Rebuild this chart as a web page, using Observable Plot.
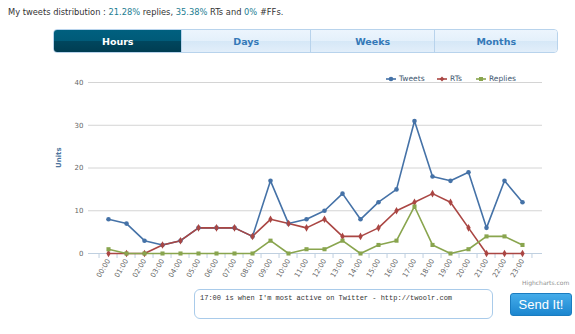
<!DOCTYPE html>
<html><head><meta charset="utf-8">
<script src="https://cdn.jsdelivr.net/npm/d3@7"></script>
<script src="https://cdn.jsdelivr.net/npm/@observablehq/plot@0.6"></script>
<style>
body{margin:0;background:#fff;width:575px;height:334px;position:relative;overflow:hidden;font-family:"DejaVu Sans",Verdana,sans-serif;}
#title{position:absolute;left:8px;top:7px;font-size:8.3px;color:#333;white-space:nowrap}
#title span{color:#1d7d92}
#tabs{position:absolute;left:53px;top:29px;width:505px;height:24px;display:flex;border:1px solid #b8d3ec;border-radius:4px;overflow:hidden;box-sizing:border-box}
.tab{height:100%;display:flex;align-items:center;justify-content:center;font-weight:bold;font-size:9.5px;color:#3479b8;background:linear-gradient(#ecf5fd 0%,#e4f0fb 50%,#d6e8f7 52%,#e2eefa 100%);border-left:1px solid #b8d3ec;box-sizing:border-box}
.tab:first-child{border-left:none}
.tab.active{color:#fff;background:linear-gradient(#00607f 0%,#005a78 50%,#00465e 52%,#003d52 100%)}
#chart{position:absolute;left:0;top:60px}
#legend{position:absolute;top:74px;left:0;font-size:7.5px;color:#3e576f}
.lg{position:absolute;display:flex;align-items:center;white-space:nowrap}
.lg svg{margin-right:3px}
#credit{position:absolute;left:522px;top:279px;font-size:6px;color:#909090}
#msg{position:absolute;left:194px;top:289px;width:299px;height:30px;border:1px solid #a9cbea;border-radius:6px;box-sizing:border-box;font-family:"Liberation Mono",monospace;font-size:7px;color:#333;padding:4px 5px}
#send{position:absolute;left:510px;top:293px;width:62px;height:23px;border-radius:3px;background:linear-gradient(#44acea,#1c86cf);border:1px solid #1a7cc0;box-sizing:border-box;color:#fff;font-family:"Liberation Sans",Arial,sans-serif;font-size:13px;display:flex;align-items:center;justify-content:center}
</style></head>
<body>
<div id="title">My tweets distribution : <span>21.28%</span> replies, <span>35.38%</span> RTs and <span>0%</span> #FFs.</div>
<div id="tabs"></div>
<div id="chart"></div>
<div id="legend"></div>
<div id="credit">Highcharts.com</div>
<div id="msg">17:00 is when I'm most active on Twitter - http://twoolr.com</div>
<div id="send">Send It!</div>
<script>
const tabNames = ["Hours","Days","Weeks","Months"];
const tabWidths = [128,129,125,123];
const hours = ["00:00","01:00","02:00","03:00","04:00","05:00","06:00","07:00","08:00","09:00","10:00","11:00","12:00","13:00","14:00","15:00","16:00","17:00","18:00","19:00","20:00","21:00","22:00","23:00"];
const tweets  = [8,7,3,2,3,6,6,6,4,17,7,8,10,14,8,12,15,31,18,17,19,6,17,12];
const rts     = [0,0,0,2,3,6,6,6,4,8,7,6,8,4,4,6,10,12,14,12,6,0,0,0];
const replies = [1,0,0,0,0,0,0,0,0,3,0,1,1,3,0,2,3,11,2,0,1,4,4,2];
const seriesNames = ["Tweets","RTs","Replies"];
const seriesColors = ["#4572A7","#AA4643","#89A54E"];
const seriesSymbols = ["circle","diamond","square"];
const yTicks = [0,10,20,30,40];

// tabs
const tabs = document.getElementById("tabs");
tabNames.forEach((t,i)=>{
  const d=document.createElement("div");
  d.className="tab"+(i===0?" active":"");
  d.style.width=tabWidths[i]+"px";
  d.textContent=t; tabs.appendChild(d);
});

// legend
const legendX=[386,437,476];
const lg=document.getElementById("legend");
seriesNames.forEach((s,i)=>{
  const d=document.createElement("div");
  d.className="lg"; d.style.left=legendX[i]+"px";
  const c=seriesColors[i];
  let m = seriesSymbols[i]==="circle" ? `<circle cx="5" cy="4" r="2.3" fill="${c}"/>`
        : seriesSymbols[i]==="diamond" ? `<path d="M5 1.6L7.4 4L5 6.4L2.6 4Z" fill="${c}"/>`
        : `<rect x="3" y="2" width="4" height="4" fill="${c}"/>`;
  d.innerHTML=`<svg width="10" height="8"><line x1="0" y1="4" x2="10" y2="4" stroke="${c}" stroke-width="1.6"/>${m}</svg>${s}`;
  lg.appendChild(d);
});

const W=575,H=220,mL=88,mR=33,mT=22,mB=27;
const step=(W-mL-mR)/hours.length;
const series=[tweets,rts,replies];
const data = seriesNames.flatMap((s,k)=>hours.map((h,i)=>({hour:h,value:series[k][i],series:s})));

const chart = Plot.plot({
  width:W,height:H,marginLeft:mL,marginRight:mR,marginTop:mT,marginBottom:mB,
  style:{fontFamily:"DejaVu Sans, Verdana, sans-serif",fontSize:"7px",color:"#666",background:"transparent",overflow:"visible"},
  x:{type:"point",domain:hours,padding:0.5,align:0.5,axis:null},
  y:{domain:[0,40],axis:null},
  color:{domain:seriesNames,range:seriesColors},
  symbol:{domain:seriesNames,range:seriesSymbols},
  marks:[
    Plot.ruleY(yTicks.filter(d=>d>0),{stroke:"#d4d4d4",strokeWidth:1}),
    Plot.ruleY([0],{stroke:"#c0d0e0",strokeWidth:1}),
    Plot.axisX({ticks:hours,tickSize:5,stroke:"#c0d0e0",strokeOpacity:1,dx:-step/2,tickFormat:()=>"",label:null}),
    Plot.axisX({ticks:[hours[hours.length-1]],tickSize:5,stroke:"#c0d0e0",strokeOpacity:1,dx:step/2,tickFormat:()=>"",label:null}),
    Plot.axisX({ticks:hours,tickSize:0,tickRotate:-60,tickPadding:6,fill:"#666",fontSize:7,label:null}),
    Plot.axisY({ticks:yTicks,tickSize:0,tickPadding:5,fill:"#666",fontSize:7,label:null}),
    Plot.text(["Units"],{frameAnchor:"left",dx:-30,rotate:-90,fill:"#4d759e",fontWeight:"bold",fontSize:7}),
    Plot.line(data,{x:"hour",y:"value",z:"series",stroke:"series",strokeWidth:1.6}),
    Plot.dot(data,{x:"hour",y:"value",fill:"series",symbol:"series",r:2.3})
  ]
});
document.getElementById("chart").appendChild(chart);
</script>
</body></html>
